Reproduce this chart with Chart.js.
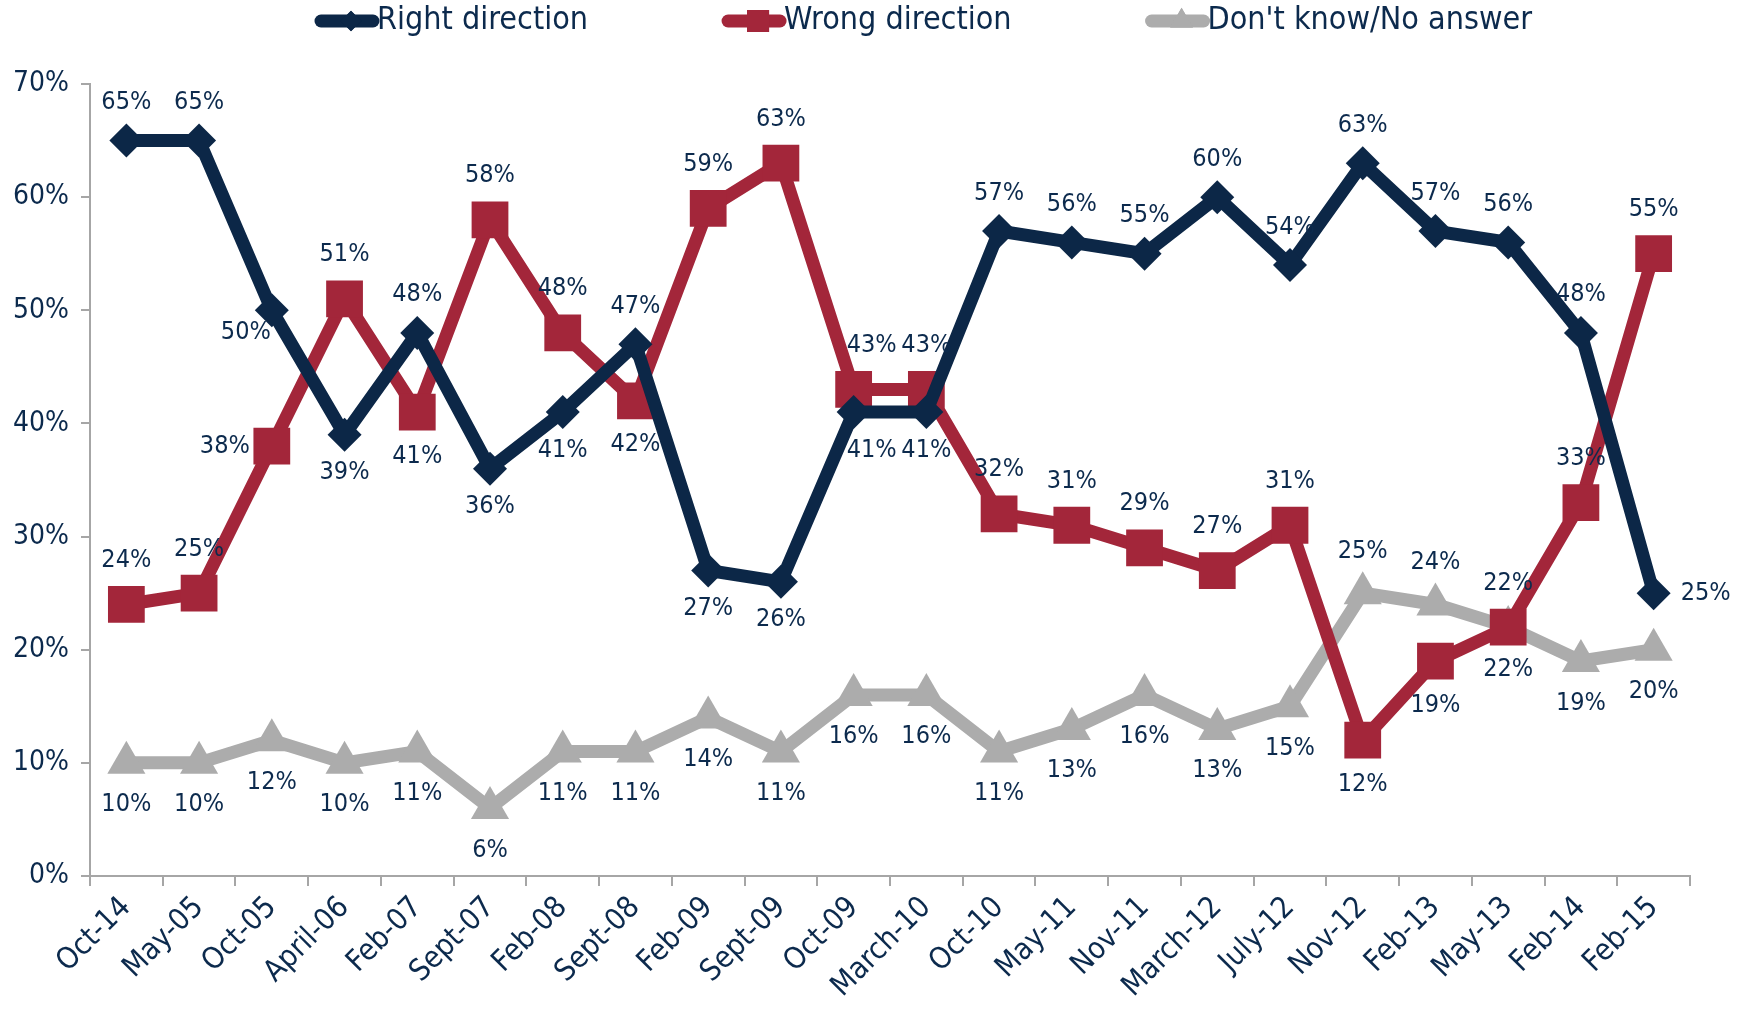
<html>
<head>
<title>Direction of the country</title>
<script src="https://cdn.jsdelivr.net/npm/chart.js@4.4.1/dist/chart.umd.min.js"></script>
<style>
	body { margin: 0; background: #fff; }
</style>
</head>
<body>
<canvas id="canvas" width="1746" height="1010"></canvas>
<script>
var labels = ["Oct-14","May-05","Oct-05","April-06","Feb-07","Sept-07","Feb-08","Sept-08","Feb-09","Sept-09","Oct-09","March-10","Oct-10","May-11","Nov-11","March-12","July-12","Nov-12","Feb-13","May-13","Feb-14","Feb-15"];
var rightDirection = [65,65,50,39,48,36,41,47,27,26,41,41,57,56,55,60,54,63,57,56,48,25];
var wrongDirection = [24,25,38,51,41,58,48,42,59,63,43,43,32,31,29,27,31,12,19,22,33,55];
var dontKnow       = [10,10,12,10,11,6,11,11,14,11,16,16,11,13,16,13,15,25,24,22,19,20];
var yTicks = [0,10,20,30,40,50,60,70];

// where each value label sits: a = above, b = below, l = left, r = right, bl/br = below left/right, ar = above right
var rightPlace = ["a","a","bl","b","a","b","b","a","b","b","br","b","a","a","a","a","a","a","a","a","a","r"];
var wrongPlace = ["a","a","l","a","b","a","a","b","a","a","ar","a","a","a","a","a","a","b","b","a","a","a"];
var dkPlace    = ["b","b","b","b","b","b","b","b","b","b","b","b","b","b","b","b","b","a","a","b","b","b"];

var NAVY = "#0c2747";
var RED = "#a3263a";
var GREY = "#acacac";
var TEXT = "#0c2a4d";
var FONT = "'DejaVu Sans Condensed', 'DejaVu Sans', sans-serif";

var valueLabels = {
	id: "valueLabels",
	afterDatasetsDraw: function(chart) {
		var ctx = chart.ctx;
		ctx.save();
		ctx.font = "25px " + FONT;
		ctx.fillStyle = TEXT;
		ctx.textAlign = "center";
		ctx.textBaseline = "middle";
		chart.data.datasets.forEach(function(ds, i) {
			var meta = chart.getDatasetMeta(i);
			var gap = ds.labelGap;
			meta.data.forEach(function(pt, j) {
				var p = ds.places[j];
				var x = pt.x, y = pt.y;
				if (p === "a") y -= gap;
				else if (p === "b") y += gap;
				else if (p === "l") x -= 47;
				else if (p === "r") x += 52;
				else if (p === "bl") { x -= 26; y += 22; }
				else if (p === "br") { x += 18; y += gap; }
				else if (p === "ar") { x += 18; y -= gap; }
				ctx.fillText(ds.data[j] + "%", x, y);
			});
		});
		ctx.restore();
	}
};

var topLegend = {
	id: "topLegend",
	afterDraw: function(chart) {
		var ctx = chart.ctx;
		ctx.save();
		ctx.font = "32px " + FONT;
		ctx.textBaseline = "middle";
		var x = 315, y = 21;
		chart.data.datasets.forEach(function(ds) {
			ctx.strokeStyle = ds.borderColor;
			ctx.lineWidth = 13;
			ctx.lineCap = "round";
			ctx.beginPath();
			ctx.moveTo(x + 6, y);
			ctx.lineTo(x + 58, y);
			ctx.stroke();
			ctx.fillStyle = ds.borderColor;
			Chart.helpers.drawPoint(ctx, { pointStyle: ds.pointStyle, radius: ds.pointRadius * 0.6, rotation: 0, borderWidth: 0 }, x + 36, y);
			ctx.fill();
			ctx.fillStyle = TEXT;
			ctx.fillText(ds.label, x + 62, y);
			x += 62 + ctx.measureText(ds.label).width + 134;
		});
		ctx.restore();
	}
};

var ctx = document.getElementById("canvas").getContext("2d");
new Chart(ctx, {
	type: "line",
	data: {
		labels: labels,
		datasets: [
			{ label: "Right direction", data: rightDirection, borderColor: NAVY, backgroundColor: NAVY,
			  pointStyle: "rectRot", pointRadius: 17, places: rightPlace, labelGap: 38 },
			{ label: "Wrong direction", data: wrongDirection, borderColor: RED, backgroundColor: RED,
			  pointStyle: "rect", pointRadius: 26, places: wrongPlace, labelGap: 44 },
			{ label: "Don't know/No answer", data: dontKnow, borderColor: GREY, backgroundColor: GREY,
			  pointStyle: "triangle", pointRadius: 22, places: dkPlace, labelGap: 42 }
		]
	},
	options: {
		responsive: false,
		animation: false,
		layout: { padding: { top: 84, right: 56, left: 0, bottom: 0 } },
		datasets: {
			line: { borderWidth: 13, pointBorderWidth: 0, pointHoverBorderWidth: 0 }
		},
		elements: {
			line: { tension: 0, borderJoinStyle: "miter" }
		},
		plugins: {
			legend: { display: false },
			tooltip: { enabled: false }
		},
		scales: {
			x: {
				offset: true,
				grid: { offset: true, drawOnChartArea: false, tickLength: 10, color: "#a6a6a6", lineWidth: 2 },
				border: { color: "#a6a6a6", width: 2 },
				ticks: { color: TEXT, font: { family: FONT, size: 30 }, minRotation: 45, maxRotation: 45, autoSkip: false, padding: 4 },
				afterFit: function(s) { s.height = 134; }
			},
			y: {
				min: 0, max: 70,
				afterBuildTicks: function(s) { s.ticks = yTicks.map(function(v) { return { value: v }; }); },
				grid: { drawOnChartArea: false, tickLength: 9, color: "#a6a6a6", lineWidth: 2 },
				border: { color: "#a6a6a6", width: 2 },
				ticks: { color: TEXT, font: { family: FONT, size: 28 }, padding: 12, callback: function(v) { return v + "%"; } },
				afterFit: function(s) { s.width = 90; }
			}
		}
	},
	plugins: [valueLabels, topLegend]
});
</script>
</body>
</html>
